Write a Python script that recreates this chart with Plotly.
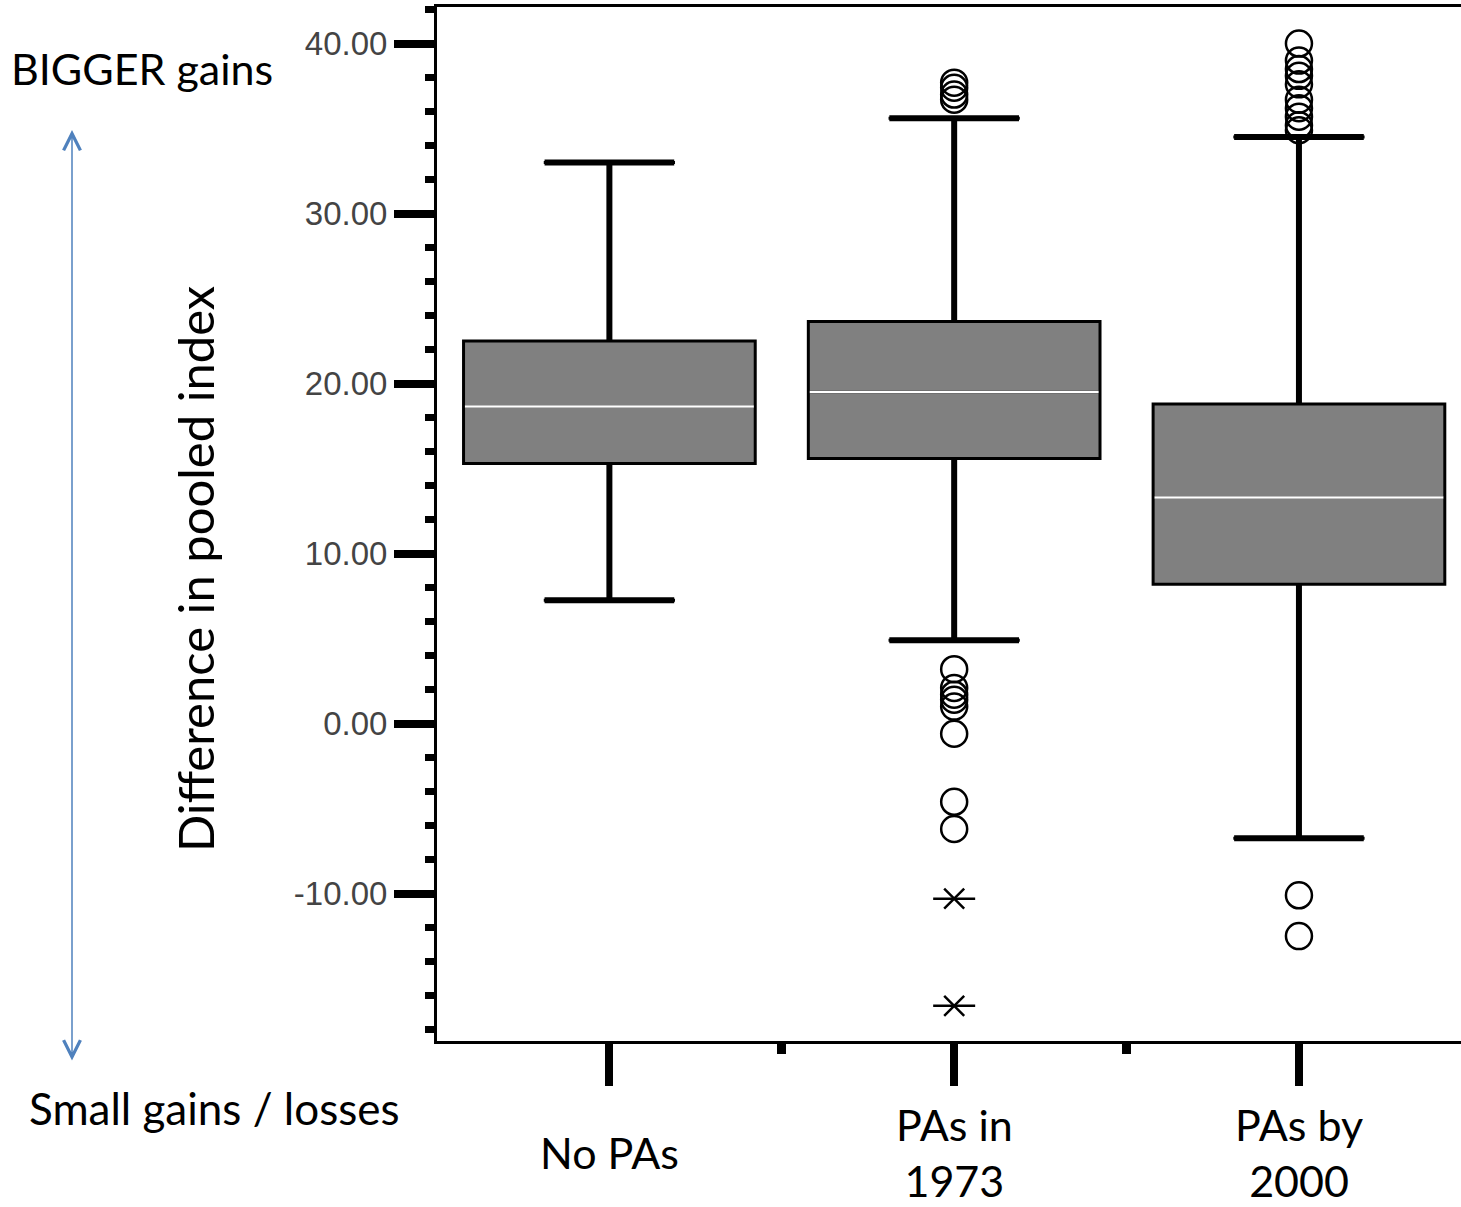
import plotly.graph_objects as go

# ---------------- data ----------------
categories = ["No PAs", "PAs in 1973", "PAs by 2000"]
cat_labels = ["No PAs", "PAs in<br>1973", "PAs by<br>2000"]
q1 = [15.3, 15.6, 8.2]
median = [18.65, 19.5, 13.3]
q3 = [22.5, 23.65, 18.8]
lowerfence = [7.25, 4.9, -6.75]
upperfence = [33.0, 35.6, 34.5]

outliers = {
    1: [37.7, 37.4, 37.0, 36.7, 3.2, 2.1, 1.7, 1.4, 1.0, -0.6, -4.6, -6.2],
    2: [40.0, 39.0, 38.5, 38.1, 37.6, 36.7, 36.2, 35.7, 35.2, 34.9, -10.1, -12.5],
}
extremes = {1: [-10.3, -16.6]}

y_tickvals = [-10, 0, 10, 20, 30, 40]
y_ticktext = [f"{v:.2f}" for v in y_tickvals]

# ---------------- layout helpers ----------------
W, H = 1461, 1207
ML, MR, MT, MB = 437, 0, 7, 166
PW, PH = W - ML - MR, H - MT - MB


def px_x(px):
    return (px - ML) / PW


def px_y(py):
    return 1 - (py - MT) / PH


pos = list(range(len(categories)))
box_w = 0.846
cap_half = 0.188
med_half = 0.419

fig = go.Figure()

fig.add_trace(go.Box(
    x=pos, q1=q1, median=median, q3=q3,
    lowerfence=lowerfence, upperfence=upperfence,
    width=box_w, whiskerwidth=0.45,
    fillcolor="#808080", line=dict(color="black", width=3),
    boxpoints=False, showlegend=False, hoverinfo="skip",
))

# thick whiskers + caps
wx, wy = [], []
for i in pos:
    wx += [i, i, None, i, i, None]
    wy += [q3[i], upperfence[i], None, q1[i], lowerfence[i], None]
    wx += [i - cap_half, i + cap_half, None, i - cap_half, i + cap_half, None]
    wy += [upperfence[i], upperfence[i], None, lowerfence[i], lowerfence[i], None]
fig.add_trace(go.Scatter(x=wx, y=wy, mode="lines",
                         line=dict(color="black", width=6),
                         showlegend=False, hoverinfo="skip"))

# white medians
mx, my = [], []
for i in pos:
    mx += [i - med_half, i + med_half, None]
    my += [median[i], median[i], None]
fig.add_trace(go.Scatter(x=mx, y=my, mode="lines",
                         line=dict(color="white", width=2.5),
                         showlegend=False, hoverinfo="skip"))

# outliers
for i, vals in outliers.items():
    fig.add_trace(go.Scatter(
        x=[i] * len(vals), y=vals, mode="markers",
        marker=dict(symbol="circle-open", size=26, color="black",
                    line=dict(color="black", width=2.5)),
        showlegend=False, hoverinfo="skip"))
for i, vals in extremes.items():
    for sym, sz in (("x-thin-open", 20), ("line-ew-open", 30)):
        fig.add_trace(go.Scatter(
            x=[i] * len(vals), y=vals, mode="markers",
            marker=dict(symbol=sym, size=sz, color="black",
                        line=dict(color="black", width=2.5)),
            showlegend=False, hoverinfo="skip"))

annotations = []
for i, lab in zip(pos, cat_labels):
    annotations.append(dict(
        x=i, xref="x", y=px_y(1152), yref="paper", text=lab,
        showarrow=False, font=dict(family="Lato", size=43, color="black"),
        xanchor="center", yanchor="middle"))

annotations += [
    dict(x=px_x(142), y=px_y(68), xref="paper", yref="paper",
         text="BIGGER gains", showarrow=False,
         font=dict(family="Lato", size=43, color="black"),
         xanchor="center", yanchor="middle"),
    dict(x=px_x(214), y=px_y(1108), xref="paper", yref="paper",
         text="Small gains / losses", showarrow=False,
         font=dict(family="Lato", size=44, color="black"),
         xanchor="center", yanchor="middle"),
    dict(x=px_x(195), y=px_y(569), xref="paper", yref="paper",
         text="Difference in pooled index", showarrow=False,
         font=dict(family="Lato", size=49, color="black"), textangle=-90,
         xanchor="center", yanchor="middle"),
    dict(x=px_x(72), y=px_y(130), xref="paper", yref="paper",
         ax=0, ay=932, axref="pixel", ayref="pixel", text="",
         showarrow=True, arrowhead=5, startarrowhead=5, arrowside="end+start",
         arrowsize=2.2, startarrowsize=2.2, arrowwidth=1.5, arrowcolor="#4f81bd"),
]

fig.update_layout(
    width=W, height=H,
    margin=dict(l=ML, r=MR, t=MT, b=MB, pad=0),
    paper_bgcolor="white", plot_bgcolor="white",
    showlegend=False,
    annotations=annotations,
    xaxis=dict(
        range=[-0.5, 2.47], showgrid=False, zeroline=False,
        showline=True, linecolor="black", linewidth=3, mirror=True,
        tickmode="array", tickvals=pos, showticklabels=False,
        ticks="outside", ticklen=42, tickwidth=8, tickcolor="black",
        minor=dict(tickmode="array", tickvals=[0.5, 1.5], ticks="outside",
                   ticklen=10, tickwidth=9, tickcolor="black"),
    ),
    yaxis=dict(
        range=[-18.67, 42.15], showgrid=False, zeroline=False,
        showline=True, linecolor="black", linewidth=3,
        tickmode="array", tickvals=y_tickvals, ticktext=y_ticktext,
        ticks="outside", ticklen=40, tickwidth=8, tickcolor="black",
        ticklabelstandoff=0,
        tickfont=dict(family="Liberation Sans", size=33, color="#444444"),
        minor=dict(dtick=2, tick0=0, ticks="outside", ticklen=9,
                   tickwidth=7, tickcolor="black"),
    ),
)

fig.write_html("out.html")
